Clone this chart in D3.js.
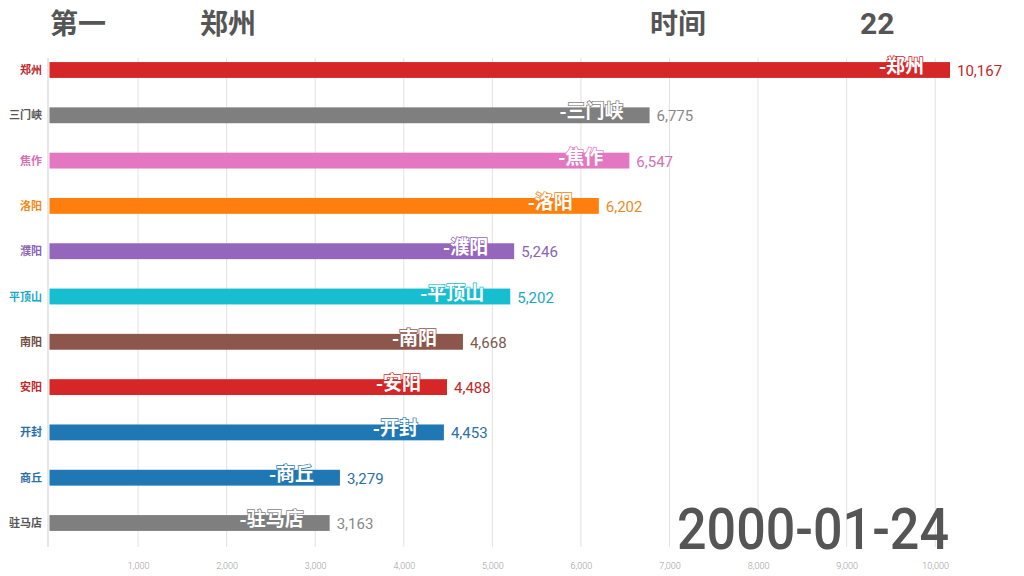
<!DOCTYPE html>
<html>
<head>
<meta charset="utf-8">
<script src="https://cdn.jsdelivr.net/npm/d3@7"></script>
<style>
html,body{margin:0;padding:0;background:#fff;}
svg{display:block;}
</style>
</head>
<body>
<svg id="chart" width="1024" height="576"></svg>
<script>
const categories = ["郑州","三门峡","焦作","洛阳","濮阳","平顶山","南阳","安阳","开封","商丘","驻马店"];
const values = [10167,6775,6547,6202,5246,5202,4668,4488,4453,3279,3163];
const barColors = ["#d62728","#7f7f7f","#e377c2","#ff7f0e","#9467bd","#17becf","#8c564b","#d62728","#1f77b4","#1f77b4","#7f7f7f"];
const labelColors = ["#c0282a","#555555","#d46fb6","#f08a20","#8a63b5","#1aa8c0","#6f4a40","#c0282a","#2a6fa8","#2a6fa8","#555555"];
const valueColors = ["#c0282a","#888888","#d46fb6","#f08a20","#8a63b5","#1aa8c0","#7a5a50","#c0282a","#2a6fa8","#2a6fa8","#888888"];
const tickValues = [1000,2000,3000,4000,5000,6000,7000,8000,9000,10000];
const titleLeft = "第一";
const titleLeader = "郑州";
const titleTime = "时间";
const titleCount = "22";
const dateLabel = "2000-01-24";

const svg = d3.select("#chart");
const cjk = "'Noto Sans CJK SC','Noto Sans',sans-serif";
const latin = "Roboto,'Noto Sans',sans-serif";

const x = d3.scaleLinear().domain([0, d3.max(values)]).range([49.5, 950]);
const y = d3.scaleBand().domain(categories).range([47.35, 545.65]).paddingInner(0.65).paddingOuter(0.325);

// gridlines
svg.append("g").selectAll("line").data(tickValues).join("line")
  .attr("x1", d => x(d)).attr("x2", d => x(d))
  .attr("y1", 58).attr("y2", 547)
  .attr("stroke", "#e2e2e2").attr("stroke-width", 1);

// axis tick labels
const axis = d3.axisBottom(x).tickValues(tickValues).tickFormat(d3.format(",")).tickSize(0).tickPadding(0);
const ag = svg.append("g").attr("transform", "translate(0,563)").call(axis);
ag.select(".domain").remove();
ag.selectAll("text").attr("fill", "#9a9a9a").style("font-family", latin).style("font-size", "9px").style("font-weight", 300);

// y axis line
svg.append("line").attr("x1", 48).attr("x2", 48).attr("y1", 58).attr("y2", 547)
  .attr("stroke", "#cfcfcf").attr("stroke-width", 1);

const data = categories.map((c, i) => ({c, v: values[i], color: barColors[i], lc: labelColors[i], vc: valueColors[i]}));

// bars
svg.append("g").selectAll("rect").data(data).join("rect")
  .attr("x", x(0)).attr("y", d => y(d.c))
  .attr("width", d => x(d.v) - x(0)).attr("height", y.bandwidth())
  .attr("fill", d => d.color);

// category labels
svg.append("g").selectAll("text").data(data).join("text")
  .attr("x", 42).attr("y", d => y(d.c) + y.bandwidth() / 2 + 4)
  .attr("text-anchor", "end")
  .attr("fill", d => d.lc)
  .style("font-family", cjk).style("font-size", "11px").style("font-weight", 700)
  .text(d => d.c);

// inner labels
svg.append("g").selectAll("text").data(data).join("text")
  .attr("x", d => x(d.v) - 26).attr("y", d => y(d.c) + y.bandwidth() / 2 + 3)
  .attr("text-anchor", "end")
  .attr("fill", "#fff")
  .attr("stroke", d => d.color).attr("stroke-width", 1.5).attr("paint-order", "stroke")
  .style("font-family", cjk).style("font-size", "19px").style("font-weight", 700)
  .text(d => "-" + d.c);

// value labels
svg.append("g").selectAll("text").data(data).join("text")
  .attr("x", d => x(d.v) + 7).attr("y", d => y(d.c) + y.bandwidth() / 2 + 6)
  .attr("fill", d => d.vc)
  .style("font-family", latin).style("font-size", "15px").style("font-weight", 400)
  .text(d => d3.format(",")(d.v));

// title
const tstyle = s => s.attr("fill", "#555").style("font-family", cjk).style("font-size", "28px").style("font-weight", 700);
svg.append("text").attr("x", 50).attr("y", 34).text(titleLeft).call(tstyle);
svg.append("text").attr("x", 200).attr("y", 34).text(titleLeader).call(tstyle);
svg.append("text").attr("x", 650).attr("y", 34).text(titleTime).call(tstyle);
svg.append("text").attr("x", 860).attr("y", 34).text(titleCount).call(tstyle).style("font-family", latin).style("font-size", "30px");

// date
svg.append("text").attr("x", 677).attr("y", 549)
  .attr("textLength", 272).attr("lengthAdjust", "spacingAndGlyphs")
  .attr("fill", "#555").style("font-family", latin).style("font-size", "58px").style("font-weight", 500)
  .text(dateLabel);
</script>
</body>
</html>
